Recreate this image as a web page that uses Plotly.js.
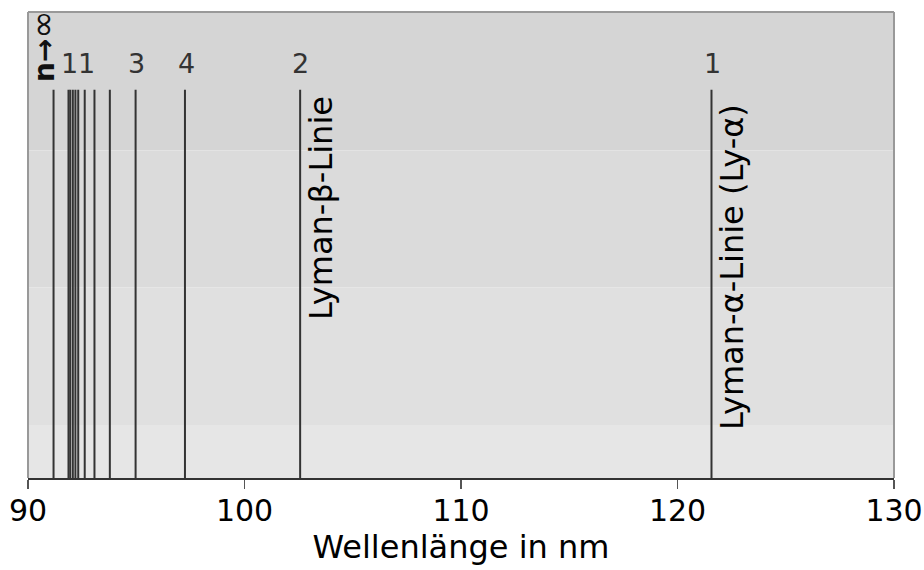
<!DOCTYPE html>
<html>
<head>
<meta charset="utf-8">
<script src="https://cdn.plot.ly/plotly-3.0.1.min.js"></script>
<style>html,body{margin:0;padding:0;background:#fff;}#chart{width:924px;height:570px;}</style>
</head>
<body>
<div id="chart"></div>
<script>
// Lyman series line wavelengths (nm)
const wavelengths = [91.18, 91.87, 91.95, 92.07, 92.19, 92.32, 92.62, 93.07, 93.78, 94.97, 97.25, 102.57, 121.57];
const lineHeight = 0.833;
// Labels above the lines
const topLabels = ["1", "1", "3", "4", "2", "1"];
const topLabelX = [91.93, 92.71, 95.0, 97.3, 102.6, 121.6];
const lineNames = ["Lyman-β-Linie", "Lyman-α-Linie (Ly-α)"];
const lineNameX = [102.57, 121.57];
const xTicks = [90, 100, 110, 120, 130];

const xs = [], ys = [];
wavelengths.forEach(w => { xs.push(w, w, null); ys.push(0, lineHeight, null); });

const font = "DejaVu Sans, Verdana, sans-serif";
const bands = [
  {y0: 0.703, y1: 1.0, c: "#d5d5d5"},
  {y0: 0.409, y1: 0.703, c: "#dbdbdb"},
  {y0: 0.114, y1: 0.409, c: "#e0e0e0"},
  {y0: 0.0, y1: 0.114, c: "#e6e6e6"}
];
const shapes = bands.map(b => ({type: "rect", xref: "paper", yref: "paper", x0: 0, x1: 1, y0: b.y0, y1: b.y1,
  fillcolor: b.c, line: {width: 0}, layer: "below"}));
shapes.push({type: "line", xref: "paper", yref: "paper", x0: 0, x1: 1, y0: 1, y1: 1, line: {color: "#999", width: 2}});
shapes.push({type: "line", xref: "paper", yref: "paper", x0: 0, x1: 0, y0: 0, y1: 1, line: {color: "#999", width: 2}});
shapes.push({type: "line", xref: "paper", yref: "paper", x0: 1, x1: 1, y0: 0, y1: 1, line: {color: "#999", width: 2}});

const annotations = [];
topLabels.forEach((t, i) => annotations.push({x: topLabelX[i], y: 0.852, xref: "x", yref: "y", text: t, showarrow: false,
  xanchor: "center", yanchor: "bottom", font: {family: font, size: 27, color: "#333"}}));
annotations.push({x: 90.68, y: 0.845, xref: "x", yref: "y", text: "<b>n→</b><span style=\"font-size:34px\">∞</span>", showarrow: false, textangle: -90,
  xanchor: "center", yanchor: "bottom", font: {family: font, size: 28, color: "#111"}});
lineNames.forEach((t, i) => annotations.push({x: lineNameX[i], y: i === 0 ? 0.335 : 0.1, xref: "x", yref: "y", text: t,
  showarrow: false, textangle: -90, xanchor: "left", yanchor: "bottom", xshift: 0,
  font: {family: font, size: 32, color: "#000"}}));

Plotly.newPlot("chart", [{
  x: xs, y: ys, type: "scatter", mode: "lines", line: {color: "#333", width: 2}, hoverinfo: "skip", showlegend: false
}], {
  width: 924, height: 570,
  margin: {l: 28, r: 30, t: 12, b: 92},
  paper_bgcolor: "#fff", plot_bgcolor: "rgba(0,0,0,0)",
  xaxis: {range: [90, 130], tickvals: xTicks, ticktext: xTicks.map(String), ticks: "outside", ticklen: 9, tickwidth: 1.5,
    tickcolor: "#555", showgrid: false, zeroline: false, showline: true, linecolor: "#333", linewidth: 2,
    ticklabeloverflow: "allow", ticklabelstandoff: -4,
    tickfont: {family: font, size: 30, color: "#000"},
    title: {text: "Wellenlänge in nm", font: {family: font, size: 32, color: "#000"}, standoff: 8}},
  yaxis: {range: [0, 1], visible: false, fixedrange: true},
  shapes: shapes, annotations: annotations
}, {staticPlot: true});
</script>
</body>
</html>
